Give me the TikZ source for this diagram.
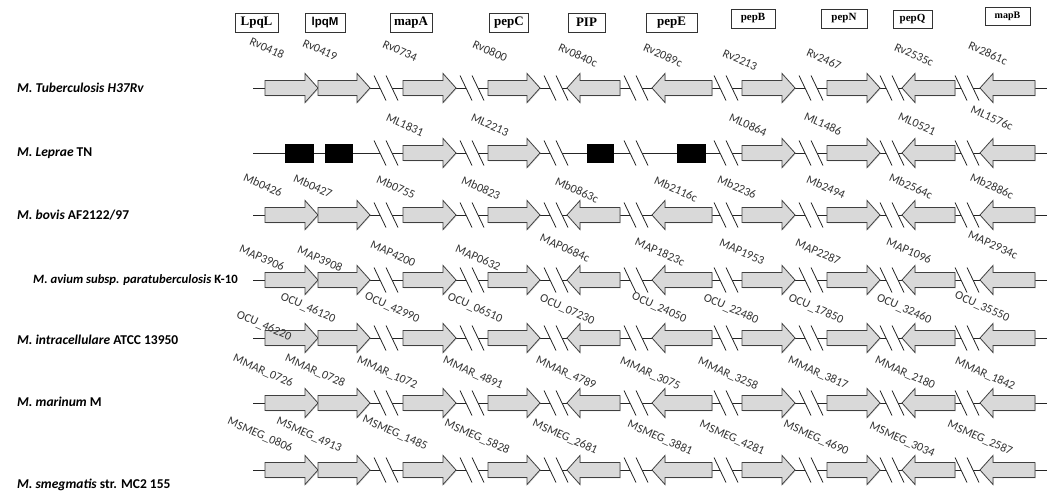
\documentclass[tikz,border=0pt]{standalone}
\usepackage{fontspec}
\setmainfont{Carlito}
\newfontfamily\tagfont{Liberation Serif}
\newfontfamily\tagsans{Liberation Sans}
\usetikzlibrary{shadows}

\tikzset{
  gene/.style={draw=black!75, fill=gray!30, line width=0.8pt, line join=miter,
    drop shadow={shadow xshift=0.8pt, shadow yshift=-0.8pt, opacity=0.25}},
  pseudo/.style={draw=black, fill=black, minimum width=#1, minimum height=18pt, inner sep=0pt},
  dna/.style={draw=black!85, line width=0.8pt},
  cut/.style={draw=black!85, line width=0.8pt},
  locus/.style={rotate=-24, inner sep=0pt, font=\fontsize{12}{13}\selectfont, text=black!80},
  species/.style={anchor=west, inner sep=0pt, font=\fontsize{13.5}{15}\selectfont\bfseries},
  tag/.style={draw=black!80, line width=0.8pt, inner sep=0pt, fill=white,
    font=\tagfont\bfseries\fontsize{13}{15}\selectfont},
}
% gene pointing right: start, tip, y
\newcommand{\fwdgene}[3]{\draw[gene] (#1,#3-7.5) -- (#2-13,#3-7.5) -- (#2-13,#3-14.5)
  -- (#2,#3) -- (#2-13,#3+14.5) -- (#2-13,#3+7.5) -- (#1,#3+7.5) -- cycle;}
% gene pointing left: tip, end, y
\newcommand{\revgene}[3]{\draw[gene] (#2,#3-7.5) -- (#1+13,#3-7.5) -- (#1+13,#3-14.5)
  -- (#1,#3) -- (#1+13,#3+14.5) -- (#1+13,#3+7.5) -- (#2,#3+7.5) -- cycle;}

\begin{document}
\begin{tikzpicture}[x=1pt,y=-1pt]
\useasboundingbox (0,0) rectangle (1047,495);

% gene names
\node[tag, minimum width=43pt, minimum height=19pt] (hLpqL) at (256.5,22.5) {LpqL};
\node[tag, minimum width=40pt, minimum height=19pt, font=\tagsans\bfseries\fontsize{11.5}{13}\selectfont] (hlpqM) at (325,22.5) {lpqM};
\node[tag, minimum width=42pt, minimum height=19pt] (hmapA) at (411,22.5) {mapA};
\node[tag, minimum width=39pt, minimum height=19pt] (hpepC) at (509,22.5) {pepC};
\node[tag, minimum width=37pt, minimum height=19pt] (hPIP) at (586.5,22.5) {PIP};
\node[tag, minimum width=51pt, minimum height=19pt] (hpepE) at (671.5,22.5) {pepE};
\node[tag, minimum width=44pt, minimum height=19pt, font=\tagfont\bfseries\fontsize{11}{13}\selectfont] (hpepB) at (753,18.5) {pepB};
\node[tag, minimum width=46pt, minimum height=19pt, font=\tagfont\bfseries\fontsize{11}{13}\selectfont] (hpepN) at (844,18.5) {pepN};
\node[tag, minimum width=39pt, minimum height=18pt, font=\tagfont\bfseries\fontsize{11}{13}\selectfont] (hpepQ) at (912.5,19) {pepQ};
\node[tag, minimum width=45pt, minimum height=18pt, font=\tagfont\bfseries\fontsize{10}{12}\selectfont] (hmapB) at (1007.5,16) {mapB};

% strains
\node[species] (sTb) at (17,88) {\itshape M. Tuberculosis H37Rv};
\node[species] (sLe) at (17,153) {\itshape M. Leprae\/ \upshape TN};
\node[species] (sBo) at (17,215) {\itshape M. bovis\/ \upshape AF2122/97};
\node[species, font=\fontsize{12.7}{15}\selectfont\bfseries] (sAv) at (33,280) {\itshape M. avium subsp. paratuberculosis\/ \upshape K-10};
\node[species] (sIn) at (17,340) {\itshape M. intracellulare\/ \upshape ATCC 13950};
\node[species] (sMa) at (17,402) {\itshape M. marinum\/ \upshape M};
\node[species] (sSm) at (17,485) {\itshape M. smegmatis\/ \upshape str. MC2 155};

% complete rows
\foreach \y in {88,215,280,338,403,470}{
  \draw[dna] (253,\y) -- (380,\y) (392,\y) -- (466,\y) (478,\y) -- (550,\y)
    (562,\y) -- (630,\y) (642,\y) -- (720,\y) (732,\y) -- (805,\y)
    (817,\y) -- (886,\y) (898,\y) -- (961,\y) (973,\y) -- (1047,\y);
  \foreach \bx in {386,472,556,636,726,811,892,967}
    \draw[cut] (\bx-12,\y-12.5) -- (\bx,\y+12.5) (\bx,\y-12.5) -- (\bx+12,\y+12.5);
  \fwdgene{265}{318}{\y}
  \fwdgene{318}{370}{\y}
  \fwdgene{403}{456}{\y}
  \fwdgene{488}{540}{\y}
  \revgene{567}{620}{\y}
  \revgene{652}{712}{\y}
  \fwdgene{742}{795}{\y}
  \fwdgene{827}{880}{\y}
  \revgene{902}{955}{\y}
  \revgene{980}{1035}{\y}
}

% M. leprae row
\draw[dna] (253,153) -- (380,153) (392,153) -- (466,153) (478,153) -- (550,153)
  (562,153) -- (630,153) (642,153) -- (720,153) (732,153) -- (805,153)
  (817,153) -- (886,153) (898,153) -- (961,153) (973,153) -- (1047,153);
\foreach \bx in {386,472,556,636,726,811,892,967}
  \draw[cut] (\bx-12,140.5) -- (\bx,165.5) (\bx,140.5) -- (\bx+12,165.5);
\node[pseudo=28pt] (l1) at (299,153) {};
\node[pseudo=27pt] (l2) at (338.5,153) {};
\fwdgene{403}{456}{153}
\fwdgene{488}{540}{153}
\node[pseudo=26pt] (l5) at (600,153) {};
\node[pseudo=28pt] (l6) at (691,153) {};
\fwdgene{742}{795}{153}
\fwdgene{827}{880}{153}
\revgene{902}{955}{153}
\revgene{980}{1035}{153}

% locus tags
\foreach \x/\yy/\g [count=\k] in {267/48/Rv0418, 320/50/Rv0419, 400/51/Rv0734,
  490/51/Rv0800, 578/55/Rv0840c, 663/55/Rv2089c, 740/60/Rv2213, 824/59/Rv2467,
  914/55/Rv2535c, 988/53/Rv2861c}
  \node[locus] (rv\k) at (\x,\yy) {\g};
\foreach \x/\yy/\g [count=\k] in {405/125/ML1831, 490/125/ML2213, 748/125/ML0864,
  823/124/ML1486, 917/124/ML0521, 992/118/ML1576c}
  \node[locus] (ml\k) at (\x,\yy) {\g};
\foreach \x/\yy/\g [count=\k] in {263/185/Mb0426, 313/186/Mb0427, 396/187/Mb0755,
  481/188/Mb0823, 577/190/Mb0863c, 676/189/Mb2116c, 737/187/Mb2236, 826/187/Mb2494,
  911/186/Mb2564c, 992/186/Mb2886c}
  \node[locus] (mb\k) at (\x,\yy) {\g};
\foreach \x/\yy/\g [count=\k] in {262/258/MAP3906, 320/259/MAP3908, 393/254/MAP4200,
  478/258/MAP0632, 565/248/MAP0684c, 660/252/MAP1823c, 742/252/MAP1953, 818/252/MAP2287,
  909/251/MAP1096, 993/245/MAP2934c}
  \node[locus] (map\k) at (\x,\yy) {\g};
\foreach \x/\yy/\g [count=\k] in {264/326/OCU\_46220, 308/308/OCU\_46120, 392/308/OCU\_42990,
  475/308/OCU\_06510, 567/310/OCU\_07230, 659/308/OCU\_24050, 731/309/OCU\_22480,
  816/309/OCU\_17850, 904/309/OCU\_32460, 982/307/OCU\_35550}
  \node[locus] (ocu\k) at (\x,\yy) {\g};
\foreach \x/\yy/\g [count=\k] in {263/371/MMAR\_0726, 315/371/MMAR\_0728, 387/373/MMAR\_1072,
  473/373/MMAR\_4891, 566/373/MMAR\_4789, 650/374/MMAR\_3075, 728/374/MMAR\_3258,
  818/373/MMAR\_3817, 905/373/MMAR\_2180, 985/374/MMAR\_1842}
  \node[locus] (mmar\k) at (\x,\yy) {\g};
\foreach \x/\yy/\g [count=\k] in {260/435/MSMEG\_0806, 309/435/MSMEG\_4913, 395/433/MSMEG\_1485,
  477/437/MSMEG\_5828, 565/437/MSMEG\_2681, 660/438/MSMEG\_3881, 732/438/MSMEG\_4281,
  816/438/MSMEG\_4690, 902/440/MSMEG\_3034, 980/438/MSMEG\_2587}
  \node[locus] (msmeg\k) at (\x,\yy) {\g};
\end{tikzpicture}
\end{document}
